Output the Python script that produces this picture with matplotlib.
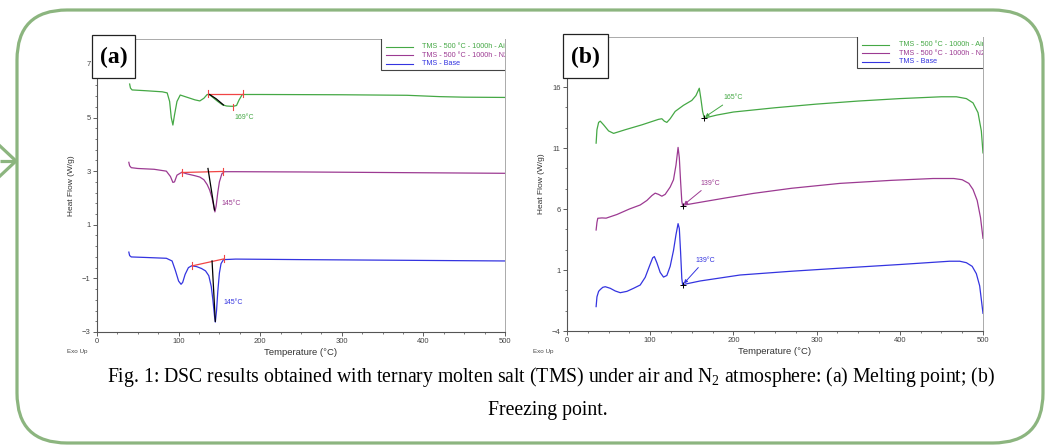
import matplotlib
matplotlib.use("Agg")
import matplotlib.pyplot as plt
from matplotlib.patches import FancyBboxPatch, Rectangle
from matplotlib.ticker import MultipleLocator, AutoMinorLocator

plt.rcParams['font.family'] = ['Liberation Sans', 'DejaVu Sans']
plt.rcParams['mathtext.fontset'] = 'custom'
plt.rcParams['mathtext.rm'] = 'Liberation Serif'

# ---------------- data: panel (a) melting ----------------
a_air_T = [40, 41, 43, 60, 80, 86, 89, 91, 93, 95, 98, 102, 110, 120, 126, 131, 135, 138, 142,
           148, 154, 159, 164, 167, 171, 174, 178, 200, 300, 380, 420, 450, 500]
a_air_H = [6.25, 6.1, 6.03, 6.0, 5.96, 5.92, 5.6, 5.0, 4.72, 5.1, 5.6, 5.84, 5.76, 5.66, 5.62, 5.72,
           5.86, 5.85, 5.75, 5.6, 5.47, 5.43, 5.42, 5.42, 5.45, 5.65, 5.86, 5.86, 5.85, 5.83, 5.78, 5.76, 5.75]

a_n2_T = [39, 40, 42, 50, 70, 85, 90, 93, 95, 98, 104, 110, 120, 126, 131, 135, 138, 141, 143,
          144.5, 146, 148, 150, 153, 156, 170, 250, 350, 450, 500]
a_n2_H = [3.33, 3.2, 3.13, 3.1, 3.07, 3.0, 2.8, 2.58, 2.6, 2.85, 2.96, 2.9, 2.83, 2.78, 2.68, 2.5,
          2.3, 2.0, 1.7, 1.48, 1.7, 2.2, 2.6, 2.9, 2.98, 2.98, 2.97, 2.95, 2.93, 2.92]

a_base_T = [39, 40, 42, 60, 85, 92, 96, 100, 103, 105, 108, 112, 116, 122, 128, 133, 137, 140, 142,
            144, 145, 146.5, 148, 150, 152, 155, 170, 250, 350, 450, 500]
a_base_H = [-0.02, -0.15, -0.2, -0.22, -0.25, -0.35, -0.7, -1.1, -1.22, -1.15, -0.85, -0.6, -0.53,
            -0.56, -0.63, -0.72, -0.9, -1.3, -1.8, -2.4, -2.63, -2.2, -1.5, -0.8, -0.45, -0.3, -0.28,
            -0.3, -0.32, -0.34, -0.35]

# baseline (red) and tangent (black) constructions, panel (a)
a_air_base = ([136, 179], [5.88, 5.88]); a_air_tan = ([138, 146, 155], [5.86, 5.7, 5.47]); a_air_peak = 167
a_n2_base = ([104, 155], [2.95, 2.99]); a_n2_tan = ([136, 144], [3.1, 1.55]); a_n2_peak = 136
a_base_base = ([117, 156], [-0.53, -0.27]); a_base_tan = ([141, 145], [-0.35, -2.6]); a_base_peak = 141
a_labels = [(169, 5.0, "169°C"), (152, 1.8, "145°C"), (155, -1.9, "145°C")]

# ---------------- data: panel (b) freezing ----------------
b_air_T = [35, 36, 38, 40, 44, 50, 56, 70, 90, 110, 114, 117, 120, 124, 130, 140, 150, 155, 159,
           161, 163, 165, 180, 200, 250, 300, 350, 400, 450, 468, 480, 488, 494, 498, 500]
b_air_H = [11.4, 12.5, 13.1, 13.2, 12.9, 12.4, 12.2, 12.5, 12.9, 13.35, 13.4, 13.2, 13.1, 13.4,
           14.0, 14.5, 14.9, 15.3, 15.9, 15.0, 14.0, 13.45, 13.7, 13.95, 14.3, 14.6, 14.85, 15.05,
           15.2, 15.2, 15.05, 14.7, 13.9, 12.4, 10.6]

b_n2_T = [35, 36, 37, 42, 47, 60, 75, 88, 96, 102, 106, 110, 114, 118, 124, 128, 131, 133.5, 135,
          136.5, 138, 139, 160, 190, 224, 270, 328, 390, 440, 465, 475, 483, 488, 493, 497, 500]
b_n2_H = [4.28, 4.9, 5.24, 5.27, 5.25, 5.55, 6.0, 6.33, 6.7, 7.1, 7.3, 7.2, 7.05, 7.2, 7.8, 8.4,
          9.6, 11.05, 10.2, 8.3, 6.6, 6.3, 6.55, 6.9, 7.28, 7.7, 8.1, 8.35, 8.5, 8.5, 8.4, 8.1, 7.6,
          6.7, 5.3, 3.6]

b_base_T = [35, 36, 38, 40, 43, 46, 52, 58, 64, 72, 80, 88, 94, 99, 103, 105, 108, 112, 116, 120,
            124, 128, 131, 133.5, 135, 136.5, 138, 139, 160, 208, 270, 328, 400, 460, 472, 480,
            487, 492, 496, 500]
b_base_H = [-2.0, -1.2, -0.75, -0.6, -0.42, -0.37, -0.5, -0.72, -0.86, -0.75, -0.5, -0.23, 0.4,
            1.3, 2.0, 2.1, 1.6, 0.8, 0.42, 0.55, 1.3, 2.6, 3.9, 4.8, 4.4, 2.5, 0.3, -0.2, 0.1, 0.59,
            0.9, 1.15, 1.45, 1.72, 1.72, 1.6, 1.3, 0.7, -0.3, -2.55]

# onset markers, label position, label text
b_onsets = [(165, 13.45, 188, 15.1, "165°C"), (139.5, 6.25, 160, 8.1, "139°C"),
            (139.5, -0.2, 154, 1.8, "139°C")]

legend_labels = ["TMS - 500 °C - 1000h - Air", "TMS - 500 °C - 1000h - N2", "TMS - Base"]
x_ticks = [0, 100, 200, 300, 400, 500]
a_yticks = [-3, -1, 1, 3, 5, 7]
b_yticks = [-4, 1, 6, 11, 16]

GREEN = '#45a845'
PURPLE = '#9c3a92'
BLUE = '#3434e0'
RED = '#f04545'
colors = [GREEN, PURPLE, BLUE]

fig = plt.figure(figsize=(10.46, 4.46), dpi=100)
fig.patch.set_facecolor('white')

# overlay for frame & arrow in pixel coords
ov = fig.add_axes([0, 0, 1, 1], zorder=0)
ov.set_xlim(0, 1046); ov.set_ylim(446, 0); ov.axis('off')
frame = FancyBboxPatch((17, 10), 1026, 433, boxstyle="round,pad=0,rounding_size=50",
                       fc='none', ec='#8cb57f', lw=2.3)
ov.add_patch(frame)
ov.plot([0, 16], [161, 161], color='#8cb57f', lw=2.3, solid_capstyle='butt')
ov.plot([0, 16, 0], [146, 161, 176], color='#8cb57f', lw=2.3)

# caption
fig.text(551 / 1046, 1 - 377 / 446, "Fig. 1: DSC results obtained with ternary molten salt (TMS) under air and N$_2$ atmosphere: (a) Melting point; (b)",
         ha='center', va='center', family='Liberation Serif', fontsize=14.2)
fig.text(548 / 1046, 1 - 411 / 446, "Freezing point.", ha='center', va='center',
         family='Liberation Serif', fontsize=14.2)


def style_axes(ax, ylim, yticks, yminor):
    ax.set_xlim(0, 500)
    ax.set_ylim(*ylim)
    ax.set_xticks(x_ticks)
    ax.set_yticks(yticks)
    ax.xaxis.set_minor_locator(MultipleLocator(25))
    ax.yaxis.set_minor_locator(AutoMinorLocator(yminor))
    ax.tick_params(which='major', direction='out', length=3, width=0.6, labelsize=5.5,
                   colors='#444', pad=1.5)
    ax.tick_params(which='minor', direction='out', length=1.6, width=0.5, colors='#444')
    for s in ['left', 'bottom']:
        ax.spines[s].set_color('#555'); ax.spines[s].set_linewidth(0.8)
    for s in ['top', 'right']:
        ax.spines[s].set_color('#aaa'); ax.spines[s].set_linewidth(0.7)
    ax.set_xlabel("Temperature (°C)", fontsize=6.8, color='#333', labelpad=2)
    ax.set_ylabel("Heat Flow (W/g)", fontsize=6.0, color='#333', labelpad=5)


def draw_legend(ax):
    ax.add_patch(Rectangle((0.696, 0.893), 0.4, 0.2, transform=ax.transAxes, fc='white',
                           ec='#444', lw=0.8, clip_on=True, zorder=5))
    ys = [0.973, 0.944, 0.916]
    for y, lab, c in zip(ys, legend_labels, colors):
        ax.plot([0.708, 0.774], [y, y], transform=ax.transAxes, color=c, lw=0.8, zorder=6, clip_on=True)
        ax.text(0.797, y, lab, transform=ax.transAxes, color=c, fontsize=5.2, va='center',
                ha='left', zorder=6, clip_on=True)


# ---------------- panel (a) ----------------
axA = fig.add_axes([97 / 1046, 1 - 332 / 446, 408 / 1046, 293 / 446], zorder=2)
style_axes(axA, (-3, 7.93), a_yticks, 5)
for T, H, c in [(a_air_T, a_air_H, GREEN), (a_n2_T, a_n2_H, PURPLE), (a_base_T, a_base_H, BLUE)]:
    axA.plot(T, H, color=c, lw=0.9)
for base, tan, pk in [(a_air_base, a_air_tan, a_air_peak), (a_n2_base, a_n2_tan, a_n2_peak),
                      (a_base_base, a_base_tan, a_base_peak)]:
    axA.plot(base[0], base[1], color=RED, lw=0.9)
    for xv, yv in zip(base[0], base[1]):
        axA.plot([xv, xv], [yv - 0.13, yv + 0.13], color=RED, lw=0.8)
    axA.plot(tan[0], tan[1], color='black', lw=0.9)
axA.plot([a_air_peak, a_air_peak], [5.3, 5.52], color=RED, lw=0.8)
for (x, y, s), c in zip(a_labels, colors):
    axA.text(x, y, s, color=c, fontsize=5.0, ha='left', va='center')
draw_legend(axA)

# ---------------- panel (b) ----------------
axB = fig.add_axes([567 / 1046, 1 - 331 / 446, 416 / 1046, 294 / 446], zorder=2)
style_axes(axB, (-4, 20.1), b_yticks, 3)
for T, H, c in [(b_air_T, b_air_H, GREEN), (b_n2_T, b_n2_H, PURPLE), (b_base_T, b_base_H, BLUE)]:
    axB.plot(T, H, color=c, lw=0.9)
for (ox, oy, lx, ly, s), c in zip(b_onsets, colors):
    axB.plot([ox], [oy], marker='+', color='black', ms=4, mew=0.7)
    axB.annotate(s, xy=(ox + 1, oy + 0.1), xytext=(lx, ly), color=c, fontsize=5.0,
                 ha='left', va='center',
                 arrowprops=dict(arrowstyle='-|>', color=c, lw=0.7, mutation_scale=5,
                                 shrinkA=1, shrinkB=0))
draw_legend(axB)

# Exo Up labels
fig.text(67 / 1046, 1 - 352 / 446, "Exo Up", fontsize=4.5, color='#444', va='center')
fig.text(533 / 1046, 1 - 352 / 446, "Exo Up", fontsize=4.5, color='#444', va='center')

# panel letters
for x0, y0, w, h, lab in [(92, 35, 43, 43, "(a)"), (563, 34, 45, 44, "(b)")]:
    fig.patches.append(Rectangle((x0 / 1046, 1 - (y0 + h) / 446), w / 1046, h / 446,
                                 transform=fig.transFigure, fc='white', ec='#222', lw=0.9,
                                 zorder=10))
    fig.text((x0 + w / 2) / 1046, 1 - (y0 + h / 2 + 1) / 446, lab, ha='center', va='center',
             family='Liberation Serif', fontweight='bold', fontsize=17, zorder=11)

fig.savefig("out.png", dpi=100, facecolor='white')
